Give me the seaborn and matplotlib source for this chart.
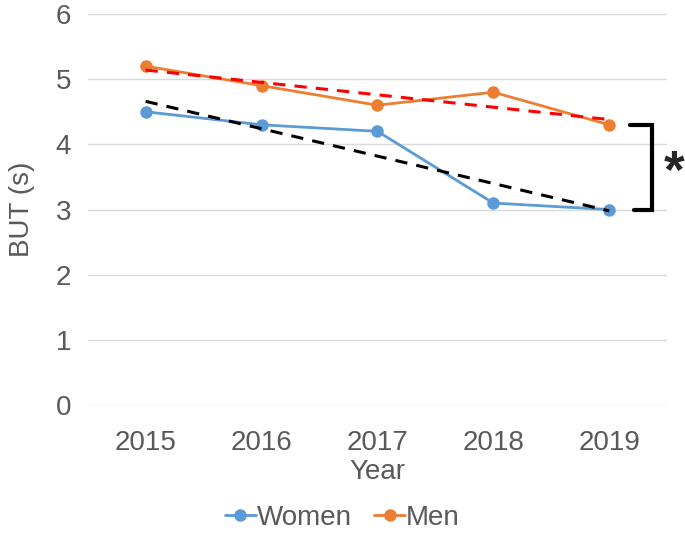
import numpy as np
import pandas as pd
import matplotlib
matplotlib.use("Agg")
import matplotlib.pyplot as plt
import seaborn as sns

years = [2015, 2016, 2017, 2018, 2019]
women = [4.5, 4.3, 4.2, 3.1, 3.0]
men = [5.2, 4.9, 4.6, 4.8, 4.3]
series_names = ["Women", "Men"]
colors = {"Women": "#5B9BD5", "Men": "#ED7D31"}
trend_colors = {"Women": "black", "Men": "red"}

sns.set_style("white")
plt.rcParams["font.family"] = ["Liberation Sans", "DejaVu Sans"]
text_color = "#595959"

df = pd.DataFrame({
    "Year": years * 2,
    "BUT": women + men,
    "Group": ["Women"] * len(years) + ["Men"] * len(years),
})

fig = plt.figure(figsize=(6.85, 5.36), dpi=100)
ax = fig.add_axes([0.128, 0.244, 0.846, 0.730])

sns.lineplot(data=df, x="Year", y="BUT", hue="Group", hue_order=series_names,
             palette=colors, marker="o", markersize=9, markeredgewidth=0,
             linewidth=2, ax=ax, legend=False)

# linear trend lines
for name in series_names:
    sub = df[df["Group"] == name]
    sns.regplot(data=sub, x="Year", y="BUT", ci=None, scatter=False, ax=ax,
                truncate=True,
                line_kws=dict(color=trend_colors[name], linestyle=(0, (4, 3)),
                              linewidth=2.2))

ax.set_xlim(2014.5, 2019.5)
ax.set_ylim(0, 6)
ax.set_xticks(years)
ax.set_xticklabels([str(y) for y in years])
ax.set_yticks(range(0, 7))
ax.yaxis.grid(True, color="#D9D9D9", linewidth=1)
ax.set_axisbelow(True)
for s in ax.spines.values():
    s.set_visible(False)
ax.tick_params(axis="both", length=0, labelsize=20, colors=text_color)
ax.tick_params(axis="x", pad=18)
ax.tick_params(axis="y", pad=12)
ax.set_xlabel("Year", fontsize=20, color=text_color, labelpad=2)
ax.set_ylabel("BUT (s)", fontsize=20, color=text_color, labelpad=15)

# significance bracket
bx = 2019.37
ax.plot([2019.18, bx, bx, 2019.21], [4.3, 4.3, 3.0, 3.0], color="black",
        linewidth=3, clip_on=False, solid_joinstyle="miter")
ax.text(2019.56, 3.55, "*", fontsize=38, fontweight="bold", ha="center",
        va="center", clip_on=False)

handles = [plt.Line2D([], [], color=colors[n], marker="o", markersize=9,
                      markeredgewidth=0, linewidth=2) for n in series_names]
fig.legend(handles, series_names, loc="lower center", bbox_to_anchor=(0.5, -0.037),
           ncol=2, frameon=False, fontsize=20, handlelength=1.1,
           handletextpad=0.05, columnspacing=0.8, labelcolor=text_color)

fig.savefig("out.png", dpi=100)
